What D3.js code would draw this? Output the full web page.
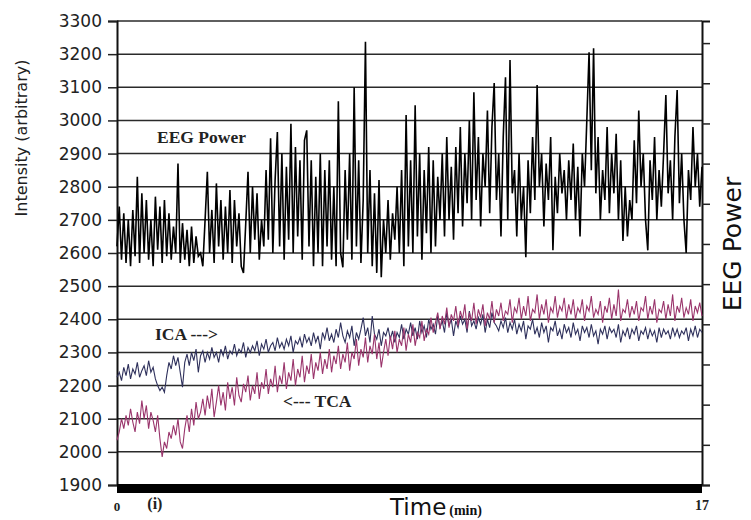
<!DOCTYPE html>
<html>
<head>
<meta charset="utf-8">
<script src="https://cdn.jsdelivr.net/npm/d3@7"></script>
<style>
  body { margin: 0; background: #fff; }
  svg { display: block; }
  .tick-label { font-family: 'DejaVu Sans', sans-serif; font-size: 17px; fill: #222; }
  .note { font-family: 'Liberation Serif', 'DejaVu Serif', serif; font-weight: bold; fill: #222; }
</style>
</head>
<body>
<div id="chart"></div>
<script>
// y tick values (left axis)
var yTicks = [1900, 2000, 2100, 2200, 2300, 2400, 2500, 2600, 2700, 2800, 2900, 3000, 3100, 3200, 3300];
// right axis ticks (EEG power, unlabelled)
var rightTicks = [0, 1, 2, 3, 4, 5, 6, 7, 8, 9, 10, 11];

// EEG power trace, 0..17 min
var eeg = [
  2620, 2740, 2580, 2720, 2570, 2700, 2560, 2730, 2590, 2830,
  2570, 2780, 2600, 2760, 2580, 2700, 2560, 2770, 2610, 2740,
  2570, 2760, 2590, 2720, 2580, 2680, 2600, 2870, 2570, 2690,
  2580, 2670, 2560, 2680, 2570, 2650, 2590, 2600, 2560, 2700,
  2845, 2600, 2730, 2570, 2810, 2620, 2760, 2580, 2740, 2600,
  2790, 2570, 2760, 2620, 2720, 2560, 2540, 2690, 2845, 2600,
  2800, 2640, 2780, 2580, 2700, 2620, 2850, 2640, 2946, 2600,
  2820, 2965, 2620, 2900, 2580, 2860, 2640, 2990, 2600, 2920,
  2650, 2880, 2580, 2940, 2970, 2620, 2880, 2560, 2830, 2600,
  2900, 2560, 2850, 2620, 2880, 2580, 2800, 2560, 3058, 2600,
  2557, 2850, 2640, 2900, 2580, 3100, 2620, 2880, 2570, 2760,
  3237, 2600, 2850, 2560, 2780, 2540, 2820, 2527, 2700, 2600,
  2760, 2580, 2720, 2640, 2800, 2600, 2850, 2560, 3016, 2620,
  2880, 2600, 3046, 2650, 2900, 2580, 2850, 2660, 2920, 2600,
  2880, 2620, 2830, 2700, 2900, 2650, 2950, 2700, 2860, 2640,
  2920, 2720, 2980, 2680, 2900, 2750, 3000, 2700, 3085, 2760,
  2950, 2680, 2900, 2800, 3030, 2720, 2980, 3113, 2760, 2900,
  2650, 2950, 3130, 2700, 3182, 2780, 2850, 2650, 2900, 2700,
  2800, 2587, 2880, 2720, 2950, 2760, 3107, 2800, 2900, 2680,
  2870, 2760, 2950, 2608, 2830, 2720, 2900, 2780, 2850, 2700,
  2880, 2760, 2930, 2700, 2860, 2650, 2900, 2800, 3000, 3206,
  2850, 3218, 2780, 2950, 2700, 2850, 2760, 2980, 2720, 2900,
  2780, 2960, 2700, 2880, 2636, 2800, 2650, 2760, 2700, 2940,
  2750, 3030, 2800, 2900, 2700, 2608, 2880, 2760, 2950, 2700,
  2850, 2740, 2900, 3077, 2780, 2880, 2700, 2950, 3092, 2750,
  2900, 2700, 2600, 2850, 2760, 2980, 2800, 2900, 2740, 2860
];

// ICA trace
var ica = [
  2225, 2240, 2215, 2255, 2230, 2265, 2220, 2250, 2235, 2270,
  2225, 2245, 2260, 2230, 2275, 2240, 2255, 2220, 2200, 2185,
  2195, 2180, 2230, 2270, 2250, 2290, 2260, 2285, 2240, 2195,
  2270, 2295, 2260, 2300, 2275, 2310, 2240, 2290, 2305, 2270,
  2300, 2280, 2315, 2285, 2300, 2270, 2310, 2290, 2320, 2280,
  2305, 2295, 2325, 2290, 2310, 2300, 2330, 2285, 2315, 2300,
  2320, 2305, 2335, 2290, 2325, 2310, 2340, 2300, 2320, 2330,
  2305, 2345, 2315, 2330, 2310, 2340, 2320, 2350, 2300, 2335,
  2325, 2345, 2315, 2355, 2330, 2345, 2320, 2360, 2330, 2350,
  2310, 2360, 2340, 2375, 2335, 2355, 2330, 2370, 2345, 2390,
  2350, 2330, 2365, 2345, 2380, 2320, 2360, 2340, 2370, 2405,
  2350, 2375, 2330, 2410, 2355, 2340, 2370, 2320, 2360, 2350,
  2375, 2340, 2365, 2330, 2360, 2345, 2385, 2340, 2370, 2355,
  2390, 2350, 2375, 2340, 2395, 2360, 2380, 2345, 2400, 2370,
  2385, 2355, 2410, 2375, 2395, 2360, 2420, 2380, 2400, 2350,
  2395, 2375, 2410, 2385, 2400, 2360, 2425, 2380, 2395, 2370,
  2405, 2385, 2415, 2360, 2400, 2375, 2420, 2390, 2380, 2365,
  2395, 2375, 2405, 2360, 2390, 2370, 2400, 2355, 2385, 2365,
  2395, 2340, 2380, 2370, 2400, 2355, 2375, 2345, 2390, 2360,
  2380, 2330, 2375, 2365, 2395, 2350, 2370, 2340, 2385, 2360,
  2375, 2345, 2390, 2355, 2370, 2335, 2380, 2360, 2375, 2345,
  2385, 2350, 2365, 2325, 2370, 2355, 2380, 2340, 2375, 2360,
  2370, 2345, 2385, 2330, 2365, 2350, 2375, 2340, 2370, 2355,
  2380, 2335, 2365, 2355, 2375, 2340, 2370, 2350, 2365, 2330,
  2375, 2345, 2370, 2355, 2365, 2340, 2375, 2350, 2370, 2345,
  2365, 2355, 2375, 2335, 2370, 2350, 2380, 2345, 2370, 2360
];

// TCA trace
var tca = [
  2035, 2060, 2100, 2070, 2110, 2080, 2130, 2090, 2060, 2120,
  2085, 2155, 2100, 2140, 2070, 2120, 2095, 2060, 2110, 2040,
  1985, 2030, 2010, 2060, 2040, 2080, 2050, 2100, 2030, 2010,
  2070, 2110, 2060, 2130, 2080, 2150, 2100, 2120, 2160, 2110,
  2170, 2130, 2190, 2105, 2150, 2200, 2140, 2180, 2125, 2210,
  2160, 2195, 2140, 2225, 2170, 2150, 2205, 2180, 2230, 2155,
  2200, 2175, 2240, 2160, 2210, 2190, 2250, 2175, 2220, 2195,
  2260, 2180, 2230, 2205, 2270, 2190, 2240, 2215, 2280, 2200,
  2250, 2225, 2290, 2210, 2260, 2235, 2295, 2220, 2270, 2245,
  2300, 2235, 2280, 2250, 2310, 2240, 2290, 2265, 2320, 2250,
  2295, 2270, 2330, 2245, 2300, 2280, 2340, 2260, 2310, 2285,
  2345, 2270, 2320, 2295, 2355, 2280, 2330, 2255, 2300, 2340,
  2290, 2350, 2310, 2365, 2300, 2340, 2320, 2375, 2305, 2355,
  2330, 2385, 2320, 2360, 2345, 2395, 2335, 2370, 2355, 2405,
  2360, 2390, 2420, 2370, 2410, 2385, 2435, 2375, 2415, 2395,
  2440, 2380, 2425, 2400, 2445, 2370, 2420, 2395, 2450, 2385,
  2430, 2405, 2445, 2380, 2420, 2400, 2455, 2390, 2430, 2410,
  2450, 2395, 2425, 2415, 2460, 2390, 2435, 2420, 2465, 2400,
  2440, 2410, 2470, 2395, 2430, 2420, 2475, 2400, 2445, 2415,
  2460, 2390, 2435, 2420, 2470, 2405, 2440, 2425, 2465, 2400,
  2445, 2415, 2460, 2400, 2435, 2420, 2460, 2395, 2440, 2425,
  2470, 2405, 2430, 2415, 2455, 2390, 2440, 2420, 2465, 2400,
  2445, 2410, 2490, 2395, 2430, 2420, 2460, 2405, 2440, 2415,
  2455, 2395, 2435, 2425, 2470, 2400, 2440, 2415, 2460, 2390,
  2430, 2420, 2455, 2400, 2445, 2410, 2475, 2395, 2440, 2420,
  2465, 2405, 2435, 2415, 2460, 2395, 2440, 2420, 2450, 2410
];

var tMax = 17;

var width = 751, height = 520;
var margins = { top: 21, right: 49, bottom: 35, left: 117 };
var chartWidth = width - margins.left - margins.right;
var chartHeight = height - margins.top - margins.bottom;

var svg = d3.select('#chart').append('svg')
  .attr('width', width)
  .attr('height', height);

var g = svg.append('g')
  .attr('transform', `translate(${margins.left},${margins.top})`);

var x = d3.scaleLinear().domain([0, tMax]).range([0, chartWidth]);
var y = d3.scaleLinear().domain([1900, 3300]).range([chartHeight, 0]);
var yRight = d3.scaleLinear().domain([0, 11.55]).range([chartHeight, 0]);

// gridlines
g.selectAll('.grid')
  .data(yTicks.filter(d => d > 1900))
  .enter()
  .append('line')
  .attr('x1', 0)
  .attr('x2', chartWidth)
  .attr('y1', d => y(d))
  .attr('y2', d => y(d))
  .attr('stroke', '#2a2a2a')
  .attr('stroke-width', 1.5);

// left axis
var leftAxis = g.append('g')
  .call(d3.axisLeft(y).tickValues(yTicks).tickSize(9).tickPadding(6).tickFormat(d3.format('d')));
leftAxis.select('.domain').attr('stroke', '#111').attr('stroke-width', 2);
leftAxis.selectAll('.tick line').attr('stroke', '#222').attr('stroke-width', 1.5);
leftAxis.selectAll('.tick text')
  .attr('class', 'tick-label')
  .attr('fill', '#222')
  .style('font-family', "'DejaVu Sans', sans-serif")
  .style('font-size', '17px');

// right axis (no labels)
var rightAxis = g.append('g')
  .attr('transform', `translate(${chartWidth},0)`)
  .call(d3.axisRight(yRight).tickValues(rightTicks).tickSize(8).tickFormat(''));
rightAxis.select('.domain').attr('stroke', '#111').attr('stroke-width', 2);
rightAxis.selectAll('.tick line').attr('stroke', '#222').attr('stroke-width', 1.5);

var line = function (series) {
  return d3.line()
    .x((d, i) => x(i * tMax / (series.length - 1)))
    .y(d => y(d));
};

g.append('path')
  .datum(ica)
  .attr('d', line(ica))
  .attr('fill', 'none')
  .attr('stroke', '#2f315c')
  .attr('stroke-width', 1.1);

g.append('path')
  .datum(tca)
  .attr('d', line(tca))
  .attr('fill', 'none')
  .attr('stroke', '#9a356c')
  .attr('stroke-width', 1.1);

g.append('path')
  .datum(eeg)
  .attr('d', line(eeg))
  .attr('fill', 'none')
  .attr('stroke', '#000')
  .attr('stroke-width', 1.6);

// thick time bar along the bottom
g.append('rect')
  .attr('x', x(0))
  .attr('y', y(1900) - 1)
  .attr('width', x(tMax) - x(0))
  .attr('height', 9)
  .attr('fill', '#000');

// annotations
g.append('text').attr('class', 'note').attr('x', 40).attr('y', 122)
  .style('font-size', '17.5px').text('EEG Power');
g.append('text').attr('class', 'note').attr('x', 38).attr('y', 319)
  .style('font-size', '17.5px').text('ICA --->');
g.append('text').attr('class', 'note').attr('x', 166).attr('y', 386)
  .style('font-size', '17.5px').text('<--- TCA');

// x labels
g.append('text').attr('class', 'note').attr('x', x(0)).attr('y', chartHeight + 26)
  .attr('text-anchor', 'middle').style('font-size', '13px').text('0');
g.append('text').attr('class', 'note').attr('x', x(1.1)).attr('y', chartHeight + 24)
  .attr('text-anchor', 'middle').style('font-size', '16px').text('(i)');
g.append('text').attr('class', 'note').attr('x', x(tMax)).attr('y', chartHeight + 25)
  .attr('text-anchor', 'middle').style('font-size', '14px').text('17');

var tl = svg.append('text')
  .attr('x', 390).attr('y', 515)
  .style('font-family', "'DejaVu Sans', sans-serif")
  .style('font-size', '23px')
  .attr('fill', '#111');
tl.append('tspan').text('Time');
tl.append('tspan')
  .attr('dx', 3)
  .style('font-family', "'Liberation Serif', serif")
  .style('font-weight', 'bold')
  .style('font-size', '14px')
  .text('(min)');

// axis titles
svg.append('text')
  .attr('transform', 'translate(27,138) rotate(-90)')
  .attr('text-anchor', 'middle')
  .style('font-family', "'DejaVu Sans', sans-serif")
  .style('font-size', '16px')
  .attr('fill', '#222')
  .text('Intensity (arbitrary)');

svg.append('text')
  .attr('transform', 'translate(741,244) rotate(-90)')
  .attr('text-anchor', 'middle')
  .style('font-family', "'DejaVu Sans', sans-serif")
  .style('font-size', '25px')
  .attr('fill', '#111')
  .text('EEG Power');
</script>
</body>
</html>
